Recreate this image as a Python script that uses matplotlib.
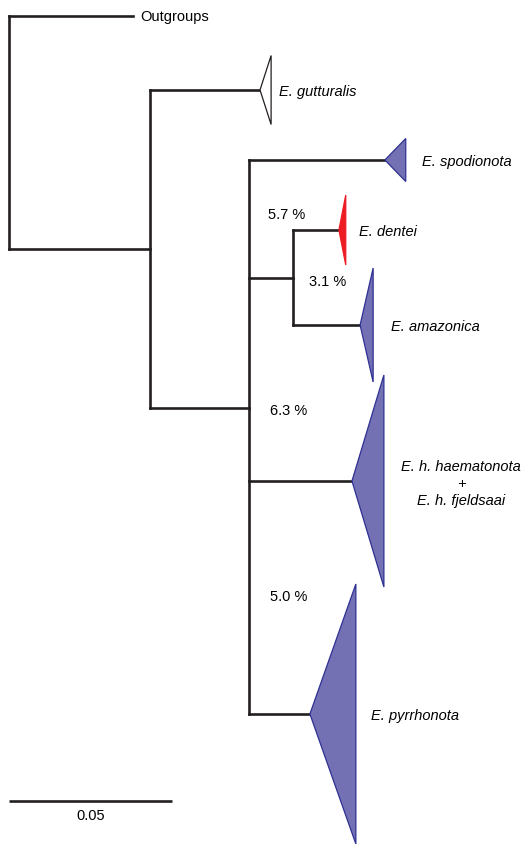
import matplotlib
matplotlib.use('Agg')
import matplotlib.pyplot as plt
from matplotlib import font_manager
from matplotlib.patches import Polygon

# narrow sans if available, otherwise plain Liberation Sans
try:
    font_manager.findfont('Liberation Sans Narrow', fallback_to_default=False)
    FONT = ['Liberation Sans Narrow', 'DejaVu Sans']
except Exception:
    FONT = ['Liberation Sans', 'DejaVu Sans']
plt.rcParams['font.family'] = FONT

# tree topology: internal node -> children
children = {
    'root': ['Outgroups', 'A'],
    'A': ['gutturalis', 'B'],
    'B': ['spodionota', 'C', 'haematonota', 'pyrrhonota'],
    'C': ['dentei', 'amazonica'],
}
# distance from root (substitutions/site)
node_x = {'root': 0.0, 'A': 0.0433, 'B': 0.0736, 'C': 0.0871}

tips = ['gutturalis', 'spodionota', 'dentei', 'amazonica', 'haematonota', 'pyrrhonota']
tip_labels = ['E. gutturalis', 'E. spodionota', 'E. dentei', 'E. amazonica',
              'E. h. haematonota\n+\nE. h. fjeldsaai', 'E. pyrrhonota']
tip_x = [0.0770, 0.1153, 0.1012, 0.1077, 0.1052, 0.0923]
tip_row = [91, 161, 231, 326, 482, 715]
clade_depth = [0.0034, 0.0064, 0.0021, 0.0040, 0.0098, 0.0141]
clade_span = [69, 43, 70, 114, 212, 260]
clade_kind = ['other', 'ingroup', 'new', 'ingroup', 'ingroup', 'ingroup']

outgroup_x = 0.0380
outgroup_row = 17

divergence = ['5.7 %', '3.1 %', '6.3 %', '5.0 %']
divergence_x = [0.0794, 0.0920, 0.0801, 0.0801]
divergence_row = [215, 282, 411, 597]

scale_len = 0.05

fill = {'other': 'white', 'ingroup': '#7470b4', 'new': '#ed1c24'}
edge = {'other': '#231f20', 'ingroup': '#2e3192', 'new': '#ed1c24'}
label_gap = [8, 16, 13, 18, 0, 15]  # px right of the clade triangle

fig = plt.figure(figsize=(5.26, 8.45), dpi=100)
ax = fig.add_axes([0, 0, 1, 1])
px = scale_len / 163.0
ax.set_xlim(-9 * px, 517 * px)
ax.set_ylim(845, 0)
ax.axis('off')

xpos = dict(node_x)
ypos = {}
for name, x, y in zip(tips, tip_x, tip_row):
    xpos[name] = x
    ypos[name] = y
xpos['Outgroups'] = outgroup_x
ypos['Outgroups'] = outgroup_row


def node_y(n):
    if n not in ypos:
        ys = [node_y(c) for c in children[n]]
        ypos[n] = sum(ys) / len(ys)
    return ypos[n]


node_y('root')

line_kw = dict(color='#231f20', lw=1.9, solid_capstyle='projecting', zorder=2)
for n, kids in children.items():
    ys = [ypos[c] for c in kids]
    ax.plot([xpos[n], xpos[n]], [min(ys), max(ys)], **line_kw)
    for c in kids:
        ax.plot([xpos[n], xpos[c]], [ypos[c], ypos[c]], **line_kw)

# collapsed clades
for i, name in enumerate(tips):
    x0, y0 = tip_x[i], tip_row[i]
    x1 = x0 + clade_depth[i]
    half = clade_span[i] / 2.0
    k = clade_kind[i]
    tri = Polygon([(x0, y0), (x1, y0 - half), (x1, y0 + half)], closed=True,
                  facecolor=fill[k], edgecolor=edge[k], lw=0.9, zorder=3)
    ax.add_patch(tri)
    if i == 4:
        ax.text(452 * px, y0 + 2, tip_labels[i], ha='center', va='center',
                style='italic', fontsize=10.5, linespacing=1.3)
    else:
        ax.text(x1 + label_gap[i] * px, y0 + 1, tip_labels[i], ha='left', va='center',
                style='italic', fontsize=10.5)

ax.text(outgroup_x + 7 * px, outgroup_row, 'Outgroups', ha='left', va='center',
        fontsize=10.5)

for t, x, y in zip(divergence, divergence_x, divergence_row):
    ax.text(x, y, t, ha='left', va='center', fontsize=10.5)

# scale bar
ax.plot([0, scale_len], [802, 802], color='#231f20', lw=1.9, solid_capstyle='butt')
ax.text(scale_len / 2, 816, '%.2f' % scale_len, ha='center', va='center', fontsize=10.5)

fig.savefig('out.png', dpi=100)
